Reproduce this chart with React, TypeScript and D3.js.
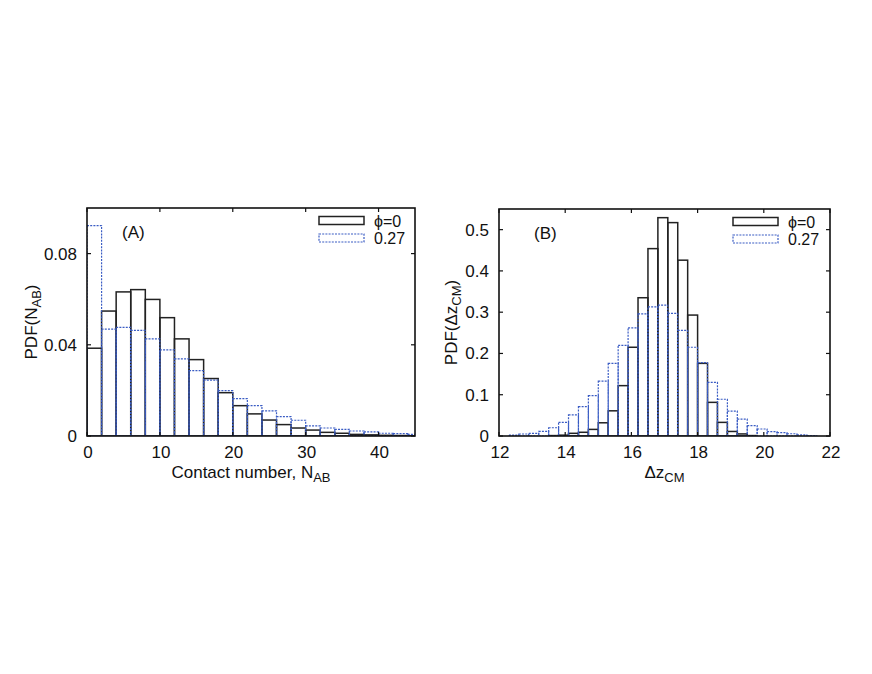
import React, { useEffect, useRef } from "react";
import * as d3 from "d3";

// panel A: contact number histogram, bins of width 2 starting at 0
const contactBinWidth = 2;
const contactPhi0 = [
  0.0385, 0.0548, 0.0632, 0.0642, 0.0599, 0.0519, 0.0426, 0.0335, 0.0252, 0.019,
  0.0133, 0.0097, 0.007, 0.005, 0.0035, 0.0026, 0.0016, 0.0012, 0.0007, 0.0005,
  0.0003, 0.0002, 0.0001,
];
const contactPhi027 = [
  0.0923, 0.0469, 0.0476, 0.0463, 0.0426, 0.0378, 0.0338, 0.0287, 0.0245, 0.0199,
  0.0164, 0.0133, 0.011, 0.0085, 0.0069, 0.0044, 0.0035, 0.0029, 0.0022, 0.0018,
  0.0012, 0.001, 0.0007,
];
const contactTicksX = [0, 10, 20, 30, 40];
const contactTicksY = [0, 0.04, 0.08];

// panel B: centre-of-mass separation, bins of width 0.3 starting at 12
const dzStart = 12;
const dzBinWidth = 0.3;
const dzPhi0 = [
  0, 0, 0, 0, 0, 0.001, 0.002, 0.0065, 0.009, 0.016, 0.032, 0.061, 0.122, 0.215,
  0.335, 0.454, 0.529, 0.517, 0.426, 0.293, 0.176, 0.0815, 0.033, 0.011, 0.005,
  0.001, 0, 0, 0, 0, 0, 0, 0,
];
const dzPhi027 = [
  0, 0.002, 0.0048, 0.0065, 0.011, 0.02, 0.033, 0.051, 0.071, 0.098, 0.133, 0.176,
  0.2195, 0.262, 0.296, 0.313, 0.317, 0.297, 0.256, 0.215, 0.178, 0.13, 0.089,
  0.0605, 0.041, 0.025, 0.017, 0.0105, 0.008, 0.0055, 0.003, 0.001, 0,
];
const dzTicksX = [12, 14, 16, 18, 20, 22];
const dzTicksY = [0, 0.1, 0.2, 0.3, 0.4, 0.5];

const legendLabels = ["\u03d5=0", "0.27"];
const BLUE = "#3a5cc4";
const FONT = "'Liberation Sans', Arial, Helvetica, sans-serif";

type Panel = {
  id: string;
  left: number;
  right: number;
  top: number;
  bottom: number;
  xDomain: [number, number];
  yDomain: [number, number];
  start: number;
  binWidth: number;
  black: number[];
  blue: number[];
  xTicks: number[];
  yTicks: number[];
  yFormat: (v: number) => string;
  label: string;
  xTitle: [string, string];
  yTitle: [string, string];
  yTitleX: number;
  legendX: number;
};

const drawPanel = (svg: d3.Selection<SVGSVGElement, unknown, null, undefined>, p: Panel) => {
  const x = d3.scaleLinear().domain(p.xDomain).range([p.left, p.right]);
  const y = d3.scaleLinear().domain(p.yDomain).range([p.bottom, p.top]);

  svg
    .append("clipPath")
    .attr("id", `clip-${p.id}`)
    .append("rect")
    .attr("x", p.left)
    .attr("y", p.top)
    .attr("width", p.right - p.left)
    .attr("height", p.bottom - p.top);

  const g = svg.append("g").attr("clip-path", `url(#clip-${p.id})`);

  const bins = (vals: number[]) =>
    vals.map((v, i) => ({ x0: p.start + i * p.binWidth, x1: p.start + (i + 1) * p.binWidth, v }));

  g.selectAll(".bar-black")
    .data(bins(p.black).filter(d => d.v > 0))
    .enter()
    .append("rect")
    .attr("class", "bar-black")
    .attr("x", d => x(d.x0))
    .attr("width", d => x(d.x1) - x(d.x0))
    .attr("y", d => y(d.v))
    .attr("height", d => y(0) - y(d.v))
    .attr("fill", "none")
    .attr("stroke", "#222")
    .attr("stroke-width", 1.5);

  g.selectAll(".bar-blue")
    .data(bins(p.blue).filter(d => d.v > 0))
    .enter()
    .append("rect")
    .attr("class", "bar-blue")
    .attr("x", d => x(d.x0))
    .attr("width", d => x(d.x1) - x(d.x0))
    .attr("y", d => y(d.v))
    .attr("height", d => y(0) - y(d.v))
    .attr("fill", "none")
    .attr("stroke", BLUE)
    .attr("stroke-width", 1.2)
    .attr("stroke-dasharray", "2,1.2");

  // frame
  svg
    .append("rect")
    .attr("x", p.left)
    .attr("y", p.top)
    .attr("width", p.right - p.left)
    .attr("height", p.bottom - p.top)
    .attr("fill", "none")
    .attr("stroke", "#111")
    .attr("stroke-width", 1.6);

  const tickLen = 4;
  const ticks = svg.append("g").attr("stroke", "#111").attr("stroke-width", 1.2);
  p.xTicks.forEach(t => {
    ticks.append("line").attr("x1", x(t)).attr("x2", x(t)).attr("y1", p.bottom).attr("y2", p.bottom - tickLen);
    ticks.append("line").attr("x1", x(t)).attr("x2", x(t)).attr("y1", p.top).attr("y2", p.top + tickLen);
  });
  p.yTicks.forEach(t => {
    ticks.append("line").attr("x1", p.left).attr("x2", p.left + tickLen).attr("y1", y(t)).attr("y2", y(t));
    ticks.append("line").attr("x1", p.right).attr("x2", p.right - tickLen).attr("y1", y(t)).attr("y2", y(t));
  });

  const txt = svg.append("g").attr("font-family", FONT).attr("font-size", 17).attr("fill", "#111");

  txt
    .selectAll(".xt")
    .data(p.xTicks)
    .enter()
    .append("text")
    .attr("x", d => x(d) + 1)
    .attr("y", p.bottom + 22)
    .attr("text-anchor", "middle")
    .text(d => String(d));

  txt
    .selectAll(".yt")
    .data(p.yTicks)
    .enter()
    .append("text")
    .attr("x", p.left - 10)
    .attr("y", d => y(d) + 6)
    .attr("text-anchor", "end")
    .text(d => p.yFormat(d));

  // x title with subscript
  const xt = txt
    .append("text")
    .attr("x", (p.left + p.right) / 2)
    .attr("y", p.bottom + 42)
    .attr("text-anchor", "middle");
  xt.append("tspan").text(p.xTitle[0]);
  xt.append("tspan").attr("font-size", 13).attr("dy", 4).text(p.xTitle[1]);

  // y title with subscript
  const yt = txt
    .append("text")
    .attr("transform", `translate(${p.yTitleX},${(p.top + p.bottom) / 2}) rotate(-90)`)
    .attr("text-anchor", "middle");
  yt.append("tspan").text(p.yTitle[0]);
  yt.append("tspan").attr("font-size", 13).attr("dy", 4).text(p.yTitle[1]);
  yt.append("tspan").attr("dy", -4).text(")");

  txt
    .append("text")
    .attr("x", p.left + 35)
    .attr("y", p.top + 30)
    .text(p.label);

  // legend
  [0, 1].forEach(i => {
    const ly = p.top + 8.5 + i * 17.5;
    svg
      .append("rect")
      .attr("x", p.legendX)
      .attr("y", ly)
      .attr("width", 45)
      .attr("height", 8)
      .attr("fill", "none")
      .attr("stroke", i === 0 ? "#222" : BLUE)
      .attr("stroke-width", i === 0 ? 1.5 : 1.2)
      .attr("stroke-dasharray", i === 0 ? null : "2,1.2");
    txt
      .append("text")
      .attr("x", p.legendX + 55)
      .attr("y", ly + 10)
      .attr("font-size", 16)
      .text(legendLabels[i]);
  });
};

function App() {
  const ref = useRef<SVGSVGElement>(null);

  useEffect(() => {
    if (!ref.current) return;
    const svg = d3.select(ref.current);
    svg.selectAll("*").remove();

    drawPanel(svg, {
      id: "a",
      left: 87,
      right: 415,
      top: 208,
      bottom: 436,
      xDomain: [0, 45],
      yDomain: [0, 0.1],
      start: 0,
      binWidth: contactBinWidth,
      black: contactPhi0,
      blue: contactPhi027,
      xTicks: contactTicksX,
      yTicks: contactTicksY,
      yFormat: v => (v === 0 ? "0" : v.toFixed(2)),
      label: "(A)",
      xTitle: ["Contact number, N", "AB"],
      yTitle: ["PDF(N", "AB"],
      yTitleX: 37,
      legendX: 319,
    });

    drawPanel(svg, {
      id: "b",
      left: 499,
      right: 830,
      top: 209,
      bottom: 436,
      xDomain: [12, 22],
      yDomain: [0, 0.55],
      start: dzStart,
      binWidth: dzBinWidth,
      black: dzPhi0,
      blue: dzPhi027,
      xTicks: dzTicksX,
      yTicks: dzTicksY,
      yFormat: v => (v === 0 ? "0" : v.toFixed(1)),
      label: "(B)",
      xTitle: ["\u0394z", "CM"],
      yTitle: ["PDF(\u0394z", "CM"],
      yTitleX: 457,
      legendX: 733,
    });
  }, []);

  return (
    <svg
      ref={ref}
      width={872}
      height={674}
      style={{ position: "absolute", left: 0, top: 0, background: "#fff" }}
    />
  );
}

export default App;
